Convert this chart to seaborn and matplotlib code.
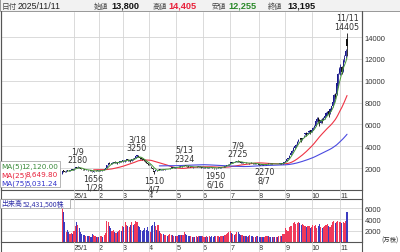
import numpy as np
import pandas as pd
import matplotlib
matplotlib.use("Agg")
import matplotlib.pyplot as plt
import matplotlib.transforms as mtrans
from matplotlib.lines import Line2D
import seaborn as sns

sns.set_theme(style="white")
plt.rcParams['font.family'] = ['Liberation Sans', 'Noto Sans CJK JP', 'DejaVu Sans']

# ---------------- data ----------------
holidays = ["2024-12-31", "2025-01-01", "2025-01-02", "2025-01-03", "2025-01-13",
            "2025-02-11", "2025-02-24", "2025-03-20", "2025-04-29", "2025-05-05",
            "2025-05-06", "2025-07-21", "2025-08-11", "2025-09-15", "2025-09-23",
            "2025-10-13", "2025-11-03"]
dates = pd.bdate_range("2024-12-18", "2025-11-11", freq="C", holidays=holidays)

opens = [1440, 1800, 1700, 1700, 1800, 1770, 1760, 1830, 1880,
         1870, 1980, 2090, 2080, 2100, 1990, 1930, 1910, 1880, 1850, 1860, 1820, 1800, 1810, 1740, 1690, 1720, 1770, 1750,
         1760, 1740, 1800, 1830, 1810, 1900, 2050, 2300, 2480, 2420, 2400, 2500, 2570, 2500, 2480, 2460, 2600, 2650,
         2620, 2700, 2640, 2730, 2800, 2700, 2700, 2700, 2850, 2820, 2950, 3100, 3150, 3000, 2900, 2880, 2800, 2700, 2580, 2450,
         2380, 2300, 2150, 2000, 1700, 1780, 1760, 1900, 1880, 1860, 1890, 1880, 1870, 1930, 1930, 1900, 1980, 2040, 2060, 2040, 2060,
         2060, 2100, 2120, 2110, 2190, 2180, 2250, 2270, 2200, 2170, 2130, 2110, 2120, 2090, 2100, 2090, 2140, 2130, 2140, 2100,
         2040, 2070, 2090, 2070, 2080, 2060, 2110, 2080, 2030, 2000, 1990, 2020, 2050, 2080, 2060, 2110, 2140, 2130, 2220, 2290, 2340,
         2420, 2550, 2500, 2560, 2540, 2600, 2660, 2610, 2550, 2500, 2510, 2470, 2490, 2460, 2470, 2440, 2500, 2460, 2430, 2440, 2400, 2400,
         2360, 2320, 2310, 2340, 2290, 2320, 2380, 2410, 2390, 2420, 2400, 2380, 2400, 2370, 2390, 2380, 2400, 2430, 2420, 2500,
         2560, 2680, 2850, 2920, 3200, 3420, 3600, 3850, 4050, 4200, 4450, 4700, 4780, 4650, 4900, 5150, 5250, 5150, 5350, 5450,
         5350, 5500, 5750, 5900, 6300, 6550, 6400, 6150, 6400, 6450, 6550, 6800, 7050, 7200, 7100, 7300, 7650, 8100, 8800, 8750, 9500, 10700,
         11200, 11300, 10900, 12000, 12300, 13800]
highs = [1750, 1830, 1760, 1800, 1820, 1800, 1830, 1900, 1900,
         1980, 2100, 2150, 2180, 2120, 2010, 1960, 1950, 1900, 1880, 1870, 1850, 1830, 1830, 1760, 1720, 1780, 1790, 1800,
         1790, 1800, 1840, 1850, 1900, 2000, 2280, 2500, 2560, 2480, 2520, 2600, 2620, 2560, 2520, 2600, 2700, 2680,
         2750, 2760, 2720, 2850, 2830, 2780, 2720, 2860, 2900, 2950, 3100, 3250, 3180, 3050, 2950, 2920, 2850, 2740, 2620, 2480,
         2420, 2360, 2200, 2020, 1780, 1850, 1800, 1960, 1920, 1900, 1930, 1910, 1930, 1960, 1950, 1960, 2040, 2080, 2090, 2080, 2090,
         2100, 2140, 2160, 2190, 2220, 2230, 2324, 2300, 2230, 2190, 2160, 2140, 2150, 2120, 2130, 2150, 2170, 2160, 2160, 2120,
         2080, 2110, 2120, 2100, 2100, 2110, 2130, 2100, 2060, 2030, 2020, 2060, 2090, 2100, 2120, 2150, 2180, 2220, 2300, 2350, 2420,
         2560, 2600, 2580, 2600, 2620, 2680, 2725, 2650, 2580, 2540, 2530, 2510, 2520, 2500, 2490, 2500, 2540, 2480, 2470, 2460, 2430, 2420,
         2380, 2350, 2350, 2360, 2320, 2380, 2420, 2450, 2430, 2440, 2430, 2420, 2410, 2400, 2420, 2410, 2440, 2460, 2500, 2560,
         2700, 2860, 2950, 3200, 3450, 3650, 3900, 4100, 4250, 4500, 4650, 4800, 4800, 4800, 5000, 5250, 5300, 5300, 5450, 5500,
         5550, 5750, 5950, 6400, 6650, 6650, 6500, 6500, 6550, 6700, 6900, 7100, 7250, 7300, 7500, 7700, 8200, 8800, 8900, 9900, 10700, 11300,
         11500, 11400, 12000, 12400, 12900, 14405]
lows = [1440, 1680, 1650, 1690, 1740, 1740, 1750, 1810, 1830,
        1860, 1970, 2040, 2050, 2000, 1900, 1880, 1870, 1830, 1820, 1800, 1780, 1760, 1770, 1680, 1656, 1700, 1730, 1740,
        1720, 1730, 1770, 1790, 1800, 1890, 2040, 2280, 2380, 2350, 2390, 2470, 2480, 2450, 2400, 2450, 2580, 2550,
        2600, 2620, 2600, 2700, 2700, 2640, 2600, 2690, 2780, 2800, 2940, 3050, 3000, 2880, 2800, 2780, 2700, 2600, 2480, 2300,
        2280, 2250, 2050, 1850, 1510, 1740, 1700, 1860, 1830, 1820, 1860, 1840, 1860, 1900, 1890, 1890, 1960, 2000, 2020, 2010, 2030,
        2040, 2070, 2080, 2100, 2150, 2160, 2230, 2200, 2150, 2120, 2090, 2080, 2090, 2060, 2070, 2080, 2100, 2090, 2090, 2040,
        2010, 2040, 2050, 2030, 2040, 2050, 2070, 2030, 2000, 1960, 1950, 2000, 2030, 2040, 2050, 2080, 2100, 2120, 2200, 2260, 2320,
        2400, 2480, 2480, 2520, 2530, 2580, 2600, 2540, 2480, 2450, 2460, 2440, 2450, 2430, 2420, 2430, 2460, 2410, 2400, 2390, 2360, 2350,
        2310, 2290, 2300, 2290, 2270, 2310, 2360, 2380, 2370, 2380, 2370, 2360, 2350, 2340, 2360, 2350, 2380, 2390, 2410, 2480,
        2540, 2660, 2800, 2900, 3180, 3400, 3580, 3800, 3950, 4150, 4380, 4550, 4400, 4620, 4850, 5050, 4900, 5100, 5200, 5150,
        5300, 5450, 5650, 5850, 6200, 6100, 5900, 6100, 6150, 6400, 6500, 6750, 6850, 6700, 7000, 7250, 7600, 8000, 8300, 8700, 9400, 10600,
        10500, 10600, 10800, 11700, 12100, 12255]
closes = [1700, 1720, 1690, 1780, 1760, 1750, 1820, 1880, 1850,
          1960, 2080, 2060, 2120, 2010, 1920, 1900, 1880, 1850, 1860, 1810, 1790, 1820, 1780, 1700, 1710, 1760, 1750, 1790,
          1740, 1790, 1830, 1800, 1890, 1980, 2250, 2450, 2420, 2400, 2500, 2560, 2500, 2540, 2450, 2580, 2680, 2600,
          2730, 2650, 2700, 2820, 2720, 2760, 2680, 2840, 2800, 2930, 3080, 3180, 3020, 2900, 2850, 2800, 2720, 2620, 2500, 2350,
          2300, 2330, 2080, 1880, 1650, 1820, 1720, 1930, 1850, 1880, 1900, 1860, 1920, 1940, 1900, 1950, 2020, 2060, 2040, 2070, 2050,
          2090, 2120, 2100, 2180, 2170, 2220, 2280, 2220, 2170, 2140, 2110, 2130, 2100, 2110, 2080, 2140, 2120, 2150, 2100, 2060,
          2070, 2090, 2060, 2080, 2050, 2100, 2080, 2040, 2020, 1990, 2010, 2050, 2080, 2060, 2110, 2140, 2120, 2210, 2280, 2330, 2400,
          2540, 2500, 2560, 2540, 2600, 2650, 2620, 2560, 2500, 2520, 2470, 2500, 2460, 2480, 2440, 2490, 2470, 2430, 2450, 2400, 2410, 2370,
          2330, 2310, 2340, 2300, 2310, 2370, 2400, 2390, 2420, 2400, 2380, 2410, 2370, 2390, 2380, 2400, 2430, 2410, 2490, 2540,
          2650, 2820, 2900, 3150, 3400, 3580, 3820, 4000, 4150, 4420, 4600, 4650, 4700, 4800, 4950, 5200, 5000, 5250, 5400, 5300,
          5450, 5700, 5850, 6300, 6500, 6350, 6200, 6400, 6350, 6600, 6800, 7050, 7150, 6950, 7400, 7650, 8100, 8700, 8500, 9800, 10600, 11100,
          11200, 10800, 11800, 12100, 12700, 13195]
volumes = [6200, 5300, 3500, 1800, 2100, 1800, 1500, 1600, 1400,
           2000, 2900, 3500, 3000, 2400, 1800, 1400, 1300, 1200, 1000, 1100, 1000, 1000, 900, 1400, 1200, 1000, 900, 900,
           900, 1000, 1000, 900, 1200, 1600, 3800, 3500, 2900, 2400, 2000, 2100, 1800, 1600, 1800, 2000, 2200, 2000,
           2800, 2600, 3500, 3000, 2800, 2600, 3000, 3500, 3000, 3200, 3800, 3600, 2800, 2600, 2200, 2000, 2200, 2400, 2200, 2600,
           2000, 1800, 2800, 3000, 3500, 2800, 2200, 3000, 2000, 1600, 1400, 1400, 1300, 1200, 1100, 1200, 1400, 1300, 1200, 1100, 1000,
           1000, 1100, 1200, 1300, 1200, 1300, 1800, 1400, 1200, 1100, 1000, 1000, 900, 900, 900, 1000, 900, 1100, 1000, 1100,
           1000, 900, 900, 1000, 900, 1000, 900, 1000, 900, 1100, 1000, 1000, 1100, 900, 1000, 1100, 1000, 1300, 1500, 1600, 1800,
           1900, 1600, 1400, 1300, 1500, 1700, 1800, 1500, 1300, 1200, 1100, 1000, 1000, 900, 1000, 1200, 1100, 1000, 900, 900, 1000, 1000,
           900, 800, 800, 800, 900, 1000, 1100, 1000, 900, 900, 800, 800, 900, 800, 900, 1000, 1100, 1000, 1400, 1500,
           2400, 2200, 2000, 2600, 2800, 2900, 3300, 3500, 3200, 3400, 3600, 3300, 3000, 3200, 3000, 2800, 2700, 2900, 2800, 2500,
           2700, 3000, 2800, 3000, 2500, 2800, 3100, 2700, 2400, 2700, 2800, 3000, 3200, 2900, 2700, 3000, 3600, 3800, 3300, 3600, 3800, 3500,
           3500, 3300, 3600, 3400, 3800, 5243]

month_labels = ["25/1", "2", "3", "4", "5", "6", "7", "8", "9", "10", "11"]
price_ticks = [2000, 4000, 6000, 8000, 10000, 12000, 14000]
vol_ticks = [2000, 4000, 6000]

highlights = [("1/9", "2025-01-09", "high"), ("1/28", "2025-01-28", "low"),
              ("3/18", "2025-03-18", "high"), ("4/7", "2025-04-07", "low"),
              ("5/13", "2025-05-13", "high"), ("6/16", "2025-06-16", "low"),
              ("7/9", "2025-07-09", "high"), ("8/7", "2025-08-07", "low"),
              ("11/11", "2025-11-11", "high")]

# ---------------- frame ----------------
df = pd.DataFrame({"date": dates, "open": opens, "high": highs, "low": lows,
                   "close": closes, "volume": volumes})
df["i"] = np.arange(len(df))
df["ma5"] = df["close"].rolling(5).mean()
df["ma25"] = df["close"].rolling(25).mean()
df["ma75"] = df["close"].rolling(75).mean()
up = df["close"] >= df["open"]

W, H = 400, 253
fig = plt.figure(figsize=(W / 100, H / 100), dpi=100)
fig.patch.set_facecolor("white")

def box(x0, y0, x1, y1):
    return [x0 / W, 1 - y1 / H, (x1 - x0) / W, (y1 - y0) / H]

ax = fig.add_axes(box(1, 13, 362, 191))
axv = fig.add_axes(box(1, 200, 362, 243))

XL = (-46.6, 228.4)
grid_c = "#d4d4d4"
spine_c = "#555555"

month_first = df.groupby(df["date"].dt.to_period("M"))["i"].min().values[1:]

off = mtrans.ScaledTranslation(1.5 / 100, 0, fig.dpi_scale_trans)
for a in (ax, axv):
    a.set_xlim(*XL)
    a.set_facecolor("white")
    for s in a.spines.values():
        s.set_color(spine_c)
        s.set_linewidth(0.8)
    a.set_xticks(month_first)
    a.set_xticklabels(month_labels, ha="left")
    for lab in a.get_xticklabels():
        lab.set_transform(lab.get_transform() + off)
    a.tick_params(axis="x", length=0, pad=1.5, labelsize=5.2, colors="#333333")
    a.tick_params(axis="y", length=0, pad=2, labelsize=5.4, colors="#333333")
    a.yaxis.tick_right()
    a.grid(True, color=grid_c, linewidth=0.6)
    a.set_axisbelow(True)

ax.spines["top"].set_visible(False)
ax.set_ylim(0, 16300)
ax.set_yticks(price_ticks)
ax.set_yticklabels([str(t) for t in price_ticks])

axv.set_ylim(0, 7600)
axv.set_yticks(vol_ticks)
axv.set_yticklabels([str(t) for t in vol_ticks])

# vertical month lines through the date bands
for x0, y0, y1 in ((ax, 191, 200), (axv, 243, 253)):
    pass
for xi in month_first:
    xp = 1 + (xi - XL[0]) / (XL[1] - XL[0]) * 361
    for yb0, yb1 in ((191, 200), (243, 253)):
        fig.lines.append(Line2D([xp / W, xp / W], [1 - yb0 / H, 1 - yb1 / H],
                                transform=fig.transFigure, color=grid_c, linewidth=0.6, zorder=0))
# continuous right border line
fig.lines.append(Line2D([362 / W, 362 / W], [1 - 12 / H, 0], transform=fig.transFigure,
                        color=spine_c, linewidth=0.8))
fig.lines.append(Line2D([1 / W, 1 / W], [1 - 12 / H, 0], transform=fig.transFigure,
                        color=spine_c, linewidth=0.8))

# candles
up_c, dn_c = "#1a1a8c", "#111111"
ax.vlines(df["i"], df["low"], df["high"], color=np.where(up, up_c, dn_c), linewidth=0.6, zorder=3)
body_lo = np.minimum(df["open"], df["close"])
body_h = np.abs(df["close"] - df["open"]).clip(lower=25)
ax.bar(df["i"], body_h, bottom=body_lo, width=0.9, color=np.where(up, up_c, dn_c),
       linewidth=0, zorder=4)

# moving averages
sns.lineplot(data=df, x="i", y="ma5", ax=ax, color="#4a9a3a", linewidth=0.7, zorder=5)
sns.lineplot(data=df, x="i", y="ma25", ax=ax, color="#ee3344", linewidth=0.8, zorder=2)
sns.lineplot(data=df, x="i", y="ma75", ax=ax, color="#4a4ae0", linewidth=0.8, zorder=2)
ax.set_xlabel("")
ax.set_ylabel("")

# annotations
narrow = ["Liberation Sans Narrow", "DejaVu Sans"]
for lab, d, kind in highlights:
    row = df[df["date"] == pd.Timestamp(d)].iloc[0]
    if kind == "high":
        ax.annotate(f"{lab}\n{int(row['high'])}", (row["i"], row["high"]),
                    xytext=(0, 1.5), textcoords="offset points", ha="center", va="bottom",
                    fontsize=5.8, family=narrow, color="#333333", linespacing=0.95)
    else:
        ax.annotate(f"{int(row['low'])}\n{lab}", (row["i"], row["low"]),
                    xytext=(0, -1.5), textcoords="offset points", ha="center", va="top",
                    fontsize=5.8, family=narrow, color="#333333", linespacing=0.95)

# volume bars
axv.bar(df["i"], df["volume"], width=0.85, color=np.where(up, "#f03a5a", "#3c3cc0"), linewidth=0)
axv.set_xlabel("")
axv.set_ylabel("")

# header
fig.patches.append(plt.Rectangle((0, 1 - 12 / H), 1, 12 / H, transform=fig.transFigure,
                                 facecolor="#f2f2f2", edgecolor="#888888", linewidth=0.6, zorder=0))
hy = 1 - 6.5 / H
cjk = ["Noto Sans CJK JP", "DejaVu Sans"]
def ftext(x, s, **kw):
    fig.text(x / W, hy, s, va="center", ha="left", **kw)
ftext(2, "日付", fontsize=5.5, family=cjk, color="#444444")
ftext(18, "2025/11/11", fontsize=6.3, color="#222222")
ftext(94, "始値", fontsize=5.2, family=cjk, color="#444444")
ftext(111, "13,800", fontsize=6.6, fontweight="bold", color="#111111")
ftext(153, "高値", fontsize=5.2, family=cjk, color="#444444")
ftext(168, "14,405", fontsize=6.6, fontweight="bold", color="#e8203a")
ftext(212, "安値", fontsize=5.2, family=cjk, color="#444444")
ftext(228, "12,255", fontsize=6.6, fontweight="bold", color="#2a8a2a")
ftext(268, "終値", fontsize=5.2, family=cjk, color="#444444")
ftext(287, "13,195", fontsize=6.6, fontweight="bold", color="#111111")

# MA legend box
fig.patches.append(plt.Rectangle((0, 1 - 188 / H), 60 / W, 26 / H, transform=fig.transFigure,
                                 facecolor="white", edgecolor="#999999", linewidth=0.5, zorder=5))
ma_names = [("MA(5)", "#3a8a3a"), ("MA(25)", "#e8203a"), ("MA(75)", "#3333cc")]
ma_display = [12120.00, 8649.80, 5031.24]
for k, ((name, c), v) in enumerate(zip(ma_names, ma_display)):
    yy = 1 - (167 + k * 8.4) / H
    fig.text(1 / W, yy, name, fontsize=5.2, color=c, va="center", ha="left", family=narrow, zorder=6)
    fig.text(58 / W, yy, f"{v:,.2f}", fontsize=5.2, color=c, va="center", ha="right", family=narrow, zorder=6)

# volume label
fig.patches.append(plt.Rectangle((0, 1 - 208.5 / H), 70 / W, 8.5 / H, transform=fig.transFigure,
                                 facecolor="white", edgecolor="#999999", linewidth=0.5, zorder=5))
fig.text(1 / W, 1 - 204.3 / H, "出来高", fontsize=5.0, color="#3333aa", family=cjk, va="center", ha="left", zorder=6)
fig.text(23 / W, 1 - 204.3 / H, "52,431,500株", fontsize=5.0, color="#3333aa",
         family=["Liberation Sans Narrow", "Noto Sans CJK JP"], va="center", ha="left", zorder=6)
fig.text(381 / W, 1 - 241 / H, "(万株)", fontsize=4.6, color="#333333", family=cjk, va="center", ha="left")

fig.savefig("out.png", dpi=100, facecolor="white")
